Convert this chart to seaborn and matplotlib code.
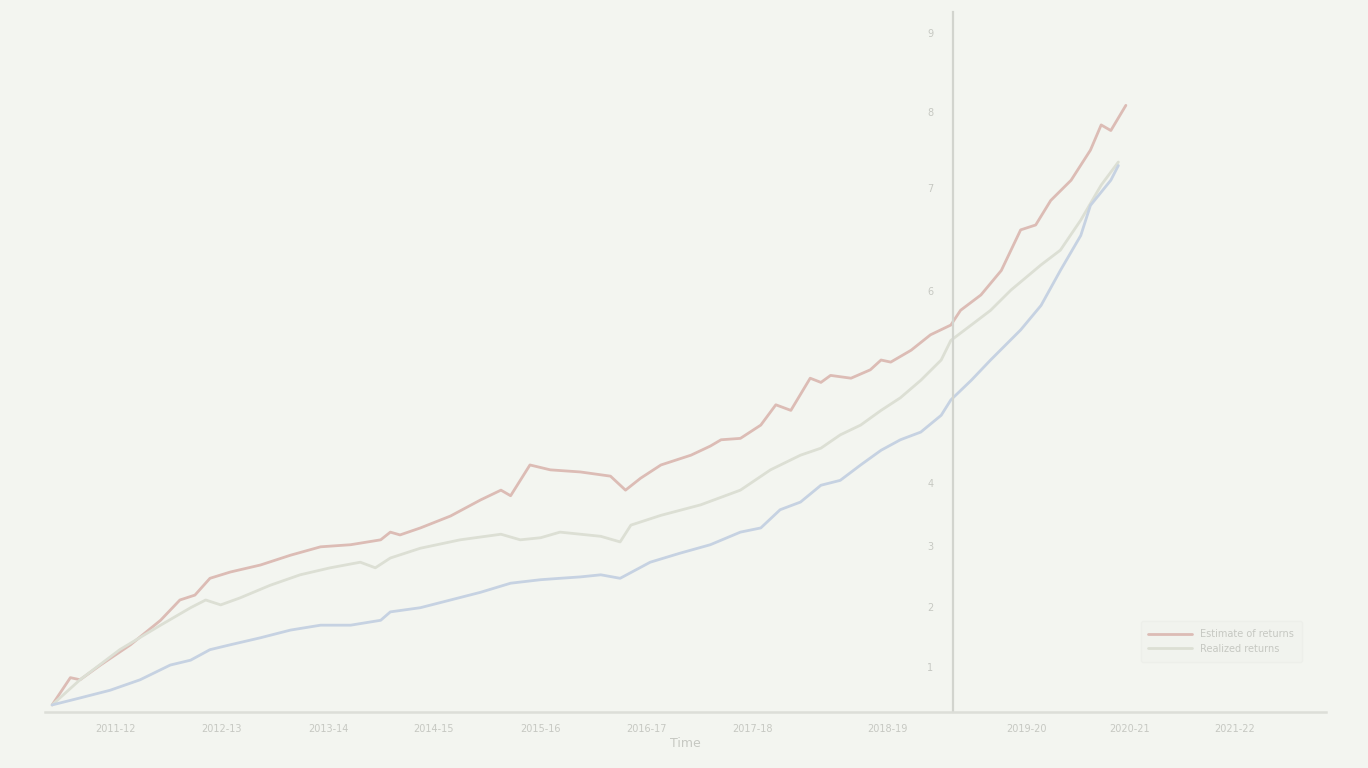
import pandas as pd
import matplotlib
matplotlib.use("Agg")
import matplotlib.pyplot as plt
import seaborn as sns

# series values (x = time index 0..100)
red_x = [0, 1.7, 2.6, 4.5, 7.3, 10.1, 11.9, 13.3, 14.7, 16.6, 19.4, 22.2, 25.0, 27.8,
         30.6, 31.5, 32.4, 34.3, 37.1, 39.9, 41.8, 42.7, 44.5, 46.4, 49.2, 52.0, 53.4,
         54.8, 56.7, 59.5, 61.3, 62.3, 64.1, 66.0, 67.4, 68.8, 70.6, 71.6, 72.5, 74.4,
         76.2, 77.2, 78.1, 80.0, 81.8, 83.7, 84.6, 86.5, 88.4, 90.2, 91.6, 93.0, 94.9,
         96.7, 97.7, 98.6, 100]
red_y = [1.0, 4.9, 4.6, 6.7, 9.6, 13.1, 16.0, 16.7, 19.1, 20.0, 21.0, 22.4, 23.6, 23.9,
         24.6, 25.7, 25.3, 26.3, 28.0, 30.3, 31.7, 30.9, 35.3, 34.6, 34.3, 33.7, 31.7,
         33.4, 35.3, 36.7, 38.0, 38.9, 39.1, 41.0, 43.9, 43.1, 47.7, 47.1, 48.1, 47.7,
         48.9, 50.3, 50.0, 51.7, 53.9, 55.3, 57.4, 59.6, 63.1, 68.9, 69.6, 73.1, 76.0,
         80.3, 83.9, 83.1, 86.7]

gray_x = [0, 2.6, 6.3, 10.1, 12.9, 14.3, 15.7, 17.5, 20.3, 23.1, 25.9, 28.7, 30.1, 31.5,
          34.3, 38.0, 41.8, 43.6, 45.5, 47.3, 51.1, 52.9, 53.9, 56.7, 60.4, 64.1, 66.9,
          69.7, 71.6, 73.4, 75.3, 77.2, 79.0, 80.9, 82.8, 83.7, 85.6, 87.4, 89.3, 92.1,
          93.9, 95.8, 97.7, 99.3]
gray_y = [1.0, 4.6, 8.9, 12.4, 14.9, 16.0, 15.3, 16.3, 18.1, 19.6, 20.6, 21.4, 20.6, 22.0,
          23.4, 24.6, 25.4, 24.6, 24.9, 25.7, 25.1, 24.3, 26.7, 28.1, 29.6, 31.7, 34.6,
          36.7, 37.7, 39.6, 41.0, 43.1, 44.9, 47.4, 50.3, 53.1, 55.3, 57.4, 60.3, 63.9,
          66.0, 70.3, 75.3, 78.6]

blue_x = [0, 2.6, 5.4, 8.2, 11.0, 12.9, 14.7, 16.6, 19.4, 22.2, 25.0, 27.8, 30.6, 31.5,
          34.3, 37.1, 39.9, 42.7, 45.5, 47.3, 49.2, 51.1, 52.9, 55.7, 58.5, 61.3, 64.1,
          66.0, 67.8, 69.7, 71.6, 73.4, 75.3, 77.2, 79.0, 80.9, 82.8, 83.7, 85.6, 87.4,
          90.2, 92.1, 93.9, 95.8, 96.7, 98.6, 99.3]
blue_y = [1.0, 2.0, 3.1, 4.6, 6.7, 7.4, 8.9, 9.6, 10.6, 11.7, 12.4, 12.4, 13.1, 14.3,
          14.9, 16.0, 17.1, 18.4, 18.9, 19.1, 19.3, 19.6, 19.1, 21.4, 22.7, 23.9, 25.7,
          26.3, 28.9, 30.0, 32.4, 33.1, 35.3, 37.4, 38.9, 40.0, 42.4, 44.6, 47.4, 50.3,
          54.6, 58.1, 63.1, 68.1, 72.4, 76.0, 78.1]

series_names = ["Estimate of returns", "Realized returns", "Baseline"]
series_colors = ["#dcbcb5", "#dcdfd4", "#c6d2e2"]

x_ticks = [5.9, 15.8, 25.7, 35.5, 45.5, 55.4, 65.2, 77.8, 90.7, 100.3, 110.1]
x_labels = ["2011-12", "2012-13", "2013-14", "2014-15", "2015-16", "2016-17",
            "2017-18", "2018-19", "2019-20", "2020-21", "2021-22"]
y_ticks = [6.4, 15.0, 23.7, 32.7, 60.1, 74.9, 85.7, 97.1]
y_labels = ["1", "2", "3", "4", "6", "7", "8", "9"]
split_x = 83.9

df = pd.concat([
    pd.DataFrame({"t": red_x, "value": red_y, "series": series_names[0]}),
    pd.DataFrame({"t": gray_x, "value": gray_y, "series": series_names[1]}),
    pd.DataFrame({"t": blue_x, "value": blue_y, "series": series_names[2]}),
])

sns.set_theme(style="white")
bg = "#f3f5f0"
text_col = "#c6c8c2"

fig = plt.figure(figsize=(13.68, 7.68), dpi=100, facecolor=bg)
ax = fig.add_axes([0.033, 0.073, 0.936, 0.911])
ax.set_facecolor(bg)

sns.lineplot(data=df, x="t", y="value", hue="series", palette=series_colors,
             hue_order=series_names, linewidth=2.0, sort=False, ax=ax, legend=False)

ax.set_xlim(-0.65, 118.6)
ax.set_ylim(0, 100)

for s in ["top", "right"]:
    ax.spines[s].set_visible(False)
ax.spines["left"].set_position(("data", split_x))
ax.spines["left"].set_color("#d2d4ce")
ax.spines["left"].set_linewidth(1.6)
ax.spines["bottom"].set_color("#dcded8")
ax.spines["bottom"].set_linewidth(1.8)

ax.set_xticks(x_ticks)
ax.set_xticklabels(x_labels)
ax.set_yticks(y_ticks)
ax.set_yticklabels(y_labels)
ax.tick_params(axis="both", length=0, labelsize=7, colors=text_col)
ax.tick_params(axis="x", pad=9)
ax.tick_params(axis="y", pad=14)
ax.set_xlabel("Time", color=text_col, fontsize=9, labelpad=2)
ax.set_ylabel("")

handles = [plt.Line2D([], [], color=series_colors[0], lw=2),
           plt.Line2D([], [], color=series_colors[1], lw=2)]
leg = ax.legend(handles, series_names[:2], loc="lower right",
                bbox_to_anchor=(0.985, 0.065), fontsize=7, frameon=True,
                handlelength=4.5, labelcolor=text_col, borderpad=0.8)
leg.get_frame().set_facecolor("#f1f3ee")
leg.get_frame().set_edgecolor("#eceee9")

fig.savefig("out.png", dpi=100, facecolor=bg)
